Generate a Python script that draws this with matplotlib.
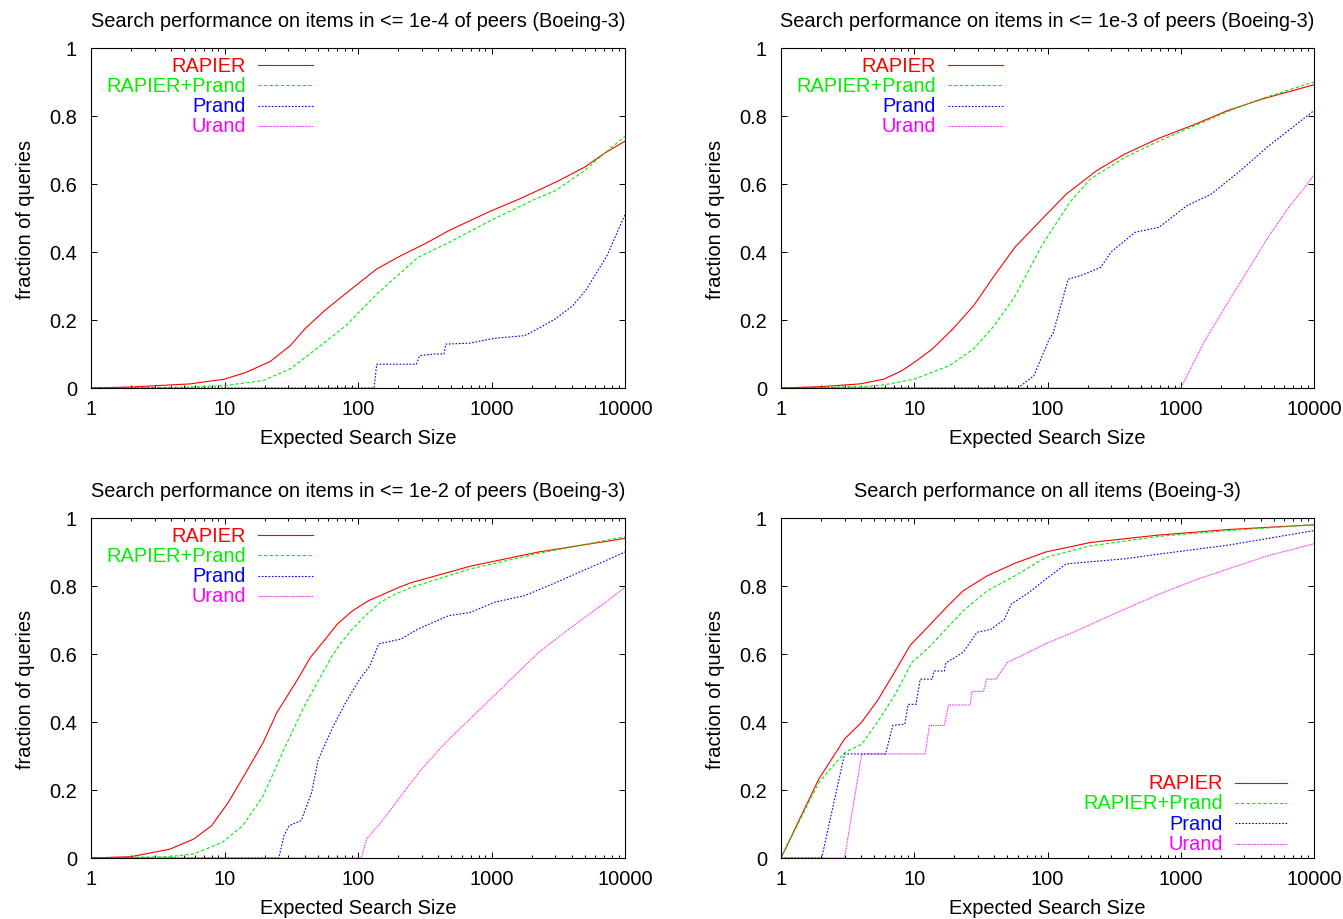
import numpy as np
import matplotlib
matplotlib.use("Agg")
from matplotlib import pyplot as plt
from matplotlib.ticker import FixedLocator, LogLocator, NullFormatter

plt.rcParams['font.family'] = ['Liberation Sans', 'DejaVu Sans']

# ---- data (x = expected search size, y = fraction of queries)
# panel 1: items in <= 1e-4 of peers
p1_rapier_x = [1, 2, 5.5, 10, 14.5, 22, 31, 40, 56, 81, 138, 209, 317, 480, 980, 1620, 2200, 3200, 5000, 7000, 10000]
p1_rapier_y = [0, 0.003, 0.012, 0.026, 0.046, 0.078, 0.124, 0.174, 0.227, 0.278, 0.35, 0.389, 0.424, 0.463, 0.52, 0.556, 0.58, 0.61, 0.65, 0.69, 0.726]
p1_prand_x = [1, 5, 10, 19.5, 31, 47, 81, 138, 281, 480, 980, 2130, 3000, 5000, 7000, 10000]
p1_prand_y = [0, 0.002, 0.007, 0.022, 0.056, 0.11, 0.183, 0.276, 0.384, 0.428, 0.492, 0.556, 0.58, 0.64, 0.69, 0.74]
p1_blue_x = [1, 132, 138, 274, 290, 368, 440, 455, 690, 1040, 1770, 2100, 3000, 4060, 5140, 7350, 10000]
p1_blue_y = [0, 0, 0.07, 0.07, 0.095, 0.10, 0.10, 0.129, 0.132, 0.146, 0.154, 0.169, 0.203, 0.242, 0.29, 0.39, 0.51]
p1_urand_x = [1, 10000]
p1_urand_y = [0, 0]

# panel 2: items in <= 1e-3 of peers
p2_rapier_x = [1, 2, 3.9, 5.9, 8, 10, 13.7, 19.5, 27.9, 39.8, 57, 91, 138, 235, 380, 690, 1250, 2250, 4100, 10000]
p2_rapier_y = [0, 0.004, 0.012, 0.026, 0.05, 0.075, 0.115, 0.174, 0.242, 0.33, 0.414, 0.497, 0.57, 0.64, 0.688, 0.735, 0.774, 0.816, 0.85, 0.892]
p2_prand_x = [1, 3.9, 5.9, 10, 18.4, 27.9, 39.8, 57, 91, 147, 210, 380, 690, 1250, 2250, 4100, 10000]
p2_prand_y = [0, 0.004, 0.009, 0.026, 0.066, 0.115, 0.183, 0.27, 0.42, 0.546, 0.615, 0.678, 0.727, 0.77, 0.813, 0.852, 0.9]
p2_blue_x = [1, 60, 79, 103, 110, 143, 176, 251, 300, 455, 690, 1110, 1690, 2700, 4600, 10000]
p2_blue_y = [0, 0, 0.036, 0.144, 0.16, 0.32, 0.33, 0.355, 0.40, 0.458, 0.473, 0.536, 0.57, 0.634, 0.713, 0.816]
p2_urand_x = [1, 1000, 1490, 2260, 3230, 4600, 6600, 8330, 9700, 10000]
p2_urand_y = [0, 0, 0.134, 0.252, 0.35, 0.448, 0.536, 0.585, 0.62, 0.625]

# panel 3: items in <= 1e-2 of peers
p3_rapier_x = [1, 2, 3.9, 5.9, 8, 10.7, 14.5, 19.5, 24.7, 35.4, 44, 57, 70, 91, 120, 147, 200, 251, 690, 2250, 10000]
p3_rapier_y = [0, 0.004, 0.026, 0.056, 0.095, 0.164, 0.252, 0.34, 0.428, 0.526, 0.59, 0.644, 0.688, 0.727, 0.757, 0.772, 0.795, 0.81, 0.858, 0.9, 0.94]
p3_prand_x = [1, 3.9, 5.9, 9.6, 13.7, 19.5, 27.9, 39.8, 64, 75, 91, 115, 147, 190, 251, 690, 2250, 10000]
p3_prand_y = [0, 0.004, 0.012, 0.046, 0.095, 0.183, 0.32, 0.448, 0.595, 0.634, 0.674, 0.715, 0.752, 0.776, 0.796, 0.85, 0.896, 0.945]
p3_blue_x = [1, 25.5, 27.9, 30.4, 37.5, 45, 50.4, 64, 81, 103, 123, 143, 210, 283, 480, 690, 1050, 1780, 3030, 5530, 10000]
p3_blue_y = [0, 0, 0.066, 0.095, 0.11, 0.193, 0.29, 0.38, 0.458, 0.526, 0.566, 0.63, 0.644, 0.674, 0.713, 0.722, 0.752, 0.772, 0.81, 0.855, 0.9]
p3_urand_x = [1, 106, 116, 156, 210, 300, 455, 690, 1250, 2260, 4100, 6600, 10000]
p3_urand_y = [0, 0, 0.056, 0.115, 0.183, 0.262, 0.34, 0.409, 0.507, 0.605, 0.683, 0.742, 0.796]

# panel 4: all items
p4_rapier_x = [1, 1.92, 3.0, 4.04, 5.3, 7.1, 9.3, 12.9, 17.4, 23.3, 35.3, 57, 97, 210, 690, 2260, 10000]
p4_rapier_y = [0, 0.232, 0.35, 0.40, 0.463, 0.546, 0.625, 0.683, 0.737, 0.786, 0.83, 0.867, 0.90, 0.928, 0.95, 0.966, 0.98]
p4_prand_x = [1, 1.92, 3.0, 4.04, 5.3, 7.1, 9.6, 12.9, 23.3, 35.3, 57, 97, 210, 690, 2260, 10000]
p4_prand_y = [0, 0.222, 0.31, 0.335, 0.40, 0.477, 0.575, 0.62, 0.727, 0.786, 0.83, 0.884, 0.918, 0.946, 0.963, 0.98]
p4_blue_x = [1, 2.02, 3.0, 6.1, 6.9, 8.5, 9.0, 10.3, 11.1, 13.6, 14.1, 16.8, 17.3, 23.3, 29.6, 37.5, 47.6, 53.5, 72, 97, 138, 380, 690, 2260, 10000]
p4_blue_y = [0, 0, 0.306, 0.306, 0.39, 0.394, 0.452, 0.452, 0.526, 0.526, 0.55, 0.55, 0.574, 0.605, 0.664, 0.672, 0.703, 0.747, 0.78, 0.82, 0.865, 0.88, 0.894, 0.92, 0.963]
p4_urand_x = [1, 3.0, 4.04, 12.1, 13.0, 16.8, 18.1, 26.3, 27, 33, 35, 41, 50, 72, 97, 156, 380, 690, 1250, 2260, 4600, 10000]
p4_urand_y = [0, 0, 0.306, 0.306, 0.39, 0.39, 0.45, 0.45, 0.49, 0.49, 0.526, 0.526, 0.575, 0.605, 0.63, 0.664, 0.732, 0.776, 0.816, 0.85, 0.89, 0.924]

titles = ["Search performance on items in <= 1e-4 of peers (Boeing-3)",
          "Search performance on items in <= 1e-3 of peers (Boeing-3)",
          "Search performance on items in <= 1e-2 of peers (Boeing-3)",
          "Search performance on all items (Boeing-3)"]
series_names = ["RAPIER", "RAPIER+Prand", "Prand", "Urand"]
x_ticks = [1, 10, 100, 1000, 10000]
x_ticklabels = ["1", "10", "100", "1000", "10000"]
y_ticks = [0, 0.2, 0.4, 0.6, 0.8, 1]
y_ticklabels = ["0", "0.2", "0.4", "0.6", "0.8", "1"]

panels = [
    [(p1_rapier_x, p1_rapier_y), (p1_prand_x, p1_prand_y), (p1_blue_x, p1_blue_y), (p1_urand_x, p1_urand_y)],
    [(p2_rapier_x, p2_rapier_y), (p2_prand_x, p2_prand_y), (p2_blue_x, p2_blue_y), (p2_urand_x, p2_urand_y)],
    [(p3_rapier_x, p3_rapier_y), (p3_prand_x, p3_prand_y), (p3_blue_x, p3_blue_y), (p3_urand_x, p3_urand_y)],
    [(p4_rapier_x, p4_rapier_y), (p4_prand_x, p4_prand_y), (p4_blue_x, p4_blue_y), (p4_urand_x, p4_urand_y)],
]

colors = ["#ff0000", "#00ee00", "#0000ff", "#ff00ff"]
styles = ["-", (0, (3, 2)), (0, (1.5, 1.5)), (0, (0.8, 0.8))]
FS = 14.4

W, H = 1343, 920
fig = plt.figure(figsize=(W / 100, H / 100), dpi=100)

# axes boxes in pixels: left, right, top, bottom
boxes = [(91, 625, 49, 389), (781, 1314, 49, 389), (91, 625, 519, 859), (781, 1314, 519, 859)]
# key: text right edge, line start, line end, first row y (axes fraction)
legends = [(0.29, 0.313, 0.416, 0.95), (0.291, 0.313, 0.416, 0.95),
           (0.29, 0.313, 0.416, 0.95), (0.829, 0.852, 0.95, 0.222)]

for i in range(4):
    l, r, t, b = boxes[i]
    ax = fig.add_axes([l / W, 1 - b / H, (r - l) / W, (b - t) / H])
    for j, (xs, ys) in enumerate(panels[i]):
        ax.plot(xs, ys, color=colors[j], linestyle=styles[j], linewidth=0.8)
    ax.set_xscale('log')
    ax.set_xlim(1, 10000)
    ax.set_ylim(0, 1)
    ax.xaxis.set_major_locator(FixedLocator(x_ticks))
    ax.set_xticklabels(x_ticklabels)
    ax.xaxis.set_minor_locator(LogLocator(base=10, subs=np.arange(2, 10)))
    ax.xaxis.set_minor_formatter(NullFormatter())
    ax.set_yticks(y_ticks)
    ax.set_yticklabels(y_ticklabels)
    ax.tick_params(which='both', direction='in', top=True, right=True, labelsize=FS)
    ax.tick_params(which='major', length=4.5, width=0.7)
    ax.tick_params(which='minor', length=2.5, width=0.7)
    ax.tick_params(axis='y', pad=10)
    ax.tick_params(axis='x', pad=8)
    for s in ax.spines.values():
        s.set_linewidth(0.8)
    ax.set_title(titles[i], fontsize=FS, pad=16)
    ax.set_xlabel("Expected Search Size", fontsize=FS, labelpad=7)
    ax.set_ylabel("fraction of queries", fontsize=FS, labelpad=10)

    # gnuplot-style key: label right aligned, sample line after it
    tx, x1, x2, y0 = legends[i]
    for j in range(4):
        yy = y0 - j * 0.0598
        ax.text(tx, yy, series_names[j], color=colors[j], fontsize=FS,
                ha='right', va='center', transform=ax.transAxes)
        ax.plot([x1, x2], [yy, yy], color=colors[j], linestyle=styles[j],
                linewidth=0.8, transform=ax.transAxes, clip_on=False)

fig.savefig("out.png", dpi=100)
